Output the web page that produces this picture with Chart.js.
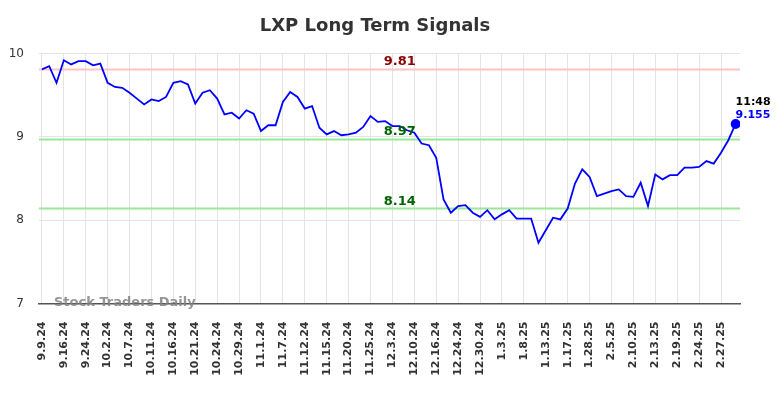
<!DOCTYPE html>
<html>
<head>
<meta charset="utf-8">
<script src="https://cdn.jsdelivr.net/npm/chart.js@4.4.1/dist/chart.umd.min.js"></script>
<style>
  html, body { margin: 0; padding: 0; background: #fff; }
  #wrap { width: 784px; height: 398px; }
</style>
</head>
<body>
<div id="wrap"><canvas id="signalChart"></canvas></div>
<script>
// tick labels, one every 3rd point
var dates = ['9.9.24', '9.16.24', '9.24.24', '10.2.24', '10.7.24', '10.11.24', '10.16.24',
  '10.21.24', '10.24.24', '10.29.24', '11.1.24', '11.7.24', '11.12.24', '11.15.24',
  '11.20.24', '11.25.24', '12.3.24', '12.10.24', '12.16.24', '12.24.24', '12.30.24',
  '1.3.25', '1.8.25', '1.13.25', '1.17.25', '1.28.25', '2.5.25', '2.10.25', '2.13.25',
  '2.19.25', '2.24.25', '2.27.25'];
var labelStep = 3;

var prices = [9.81, 9.85, 9.65, 9.92, 9.87, 9.91, 9.91, 9.86, 9.88, 9.65,
  9.60, 9.59, 9.53, 9.46, 9.39, 9.45, 9.43, 9.48, 9.65, 9.67,
  9.63, 9.40, 9.53, 9.56, 9.46, 9.27, 9.29, 9.22, 9.32, 9.28,
  9.07, 9.14, 9.14, 9.42, 9.54, 9.48, 9.34, 9.37, 9.11, 9.03,
  9.07, 9.02, 9.03, 9.05, 9.12, 9.25, 9.18, 9.19, 9.13, 9.13,
  9.08, 9.05, 8.92, 8.90, 8.75, 8.25, 8.09, 8.17, 8.18, 8.09,
  8.04, 8.12, 8.01, 8.07, 8.12, 8.02, 8.02, 8.02, 7.73, 7.88,
  8.03, 8.01, 8.14, 8.44, 8.61, 8.52, 8.29, 8.32, 8.35, 8.37,
  8.29, 8.28, 8.45, 8.17, 8.55, 8.49, 8.54, 8.54, 8.63, 8.63,
  8.64, 8.71, 8.68, 8.81, 8.96, 9.155];

var signalValues = [9.81, 8.97, 8.14];
var signalColors = ['#ffc4c4', '#98e898', '#98e898'];
var signalTextColors = ['#8b0000', '#006400', '#006400'];
var lastTime = '11:48';

var yTicks = [7, 8, 9, 10];
var xMin = -0.4, xMax = 95.6;

var FONT = "'DejaVu Sans', Verdana, sans-serif";

var linePoints = prices.map(function (p, i) { return { x: i, y: p }; });

var datasets = signalValues.map(function (v, i) {
  return {
    data: [{ x: xMin, y: v }, { x: xMax, y: v }],
    borderColor: signalColors[i],
    borderWidth: 2,
    pointRadius: 0,
    order: 2
  };
});
datasets.push({
  data: linePoints,
  borderColor: '#0000ff',
  backgroundColor: '#0000ff',
  borderWidth: 1.8,
  tension: 0,
  pointRadius: function (ctx) { return ctx.dataIndex === prices.length - 1 ? 4 : 0; },
  order: 1
});

var textPlugin = {
  id: 'signalText',
  afterDatasetsDraw: function (chart) {
    var ctx = chart.ctx;
    var xs = chart.scales.x, ys = chart.scales.y;
    var area = chart.chartArea;
    ctx.save();
    // signal labels
    ctx.font = 'bold 13px ' + FONT;
    ctx.textAlign = 'center';
    ctx.textBaseline = 'alphabetic';
    signalValues.forEach(function (v, i) {
      ctx.fillStyle = signalTextColors[i];
      ctx.fillText(v.toFixed(2), xs.getPixelForValue(49), ys.getPixelForValue(v) - 4);
    });
    // watermark
    ctx.font = 'bold 13px ' + FONT;
    ctx.textAlign = 'left';
    ctx.textBaseline = 'middle';
    ctx.fillStyle = 'rgba(130,130,130,0.85)';
    ctx.fillText('Stock Traders Daily', area.left + 15, area.bottom - 1);
    // last value
    var li = prices.length - 1;
    var px = xs.getPixelForValue(li), py = ys.getPixelForValue(prices[li]);
    ctx.font = 'bold 11px ' + FONT;
    ctx.textAlign = 'left';
    ctx.textBaseline = 'alphabetic';
    ctx.fillStyle = '#000';
    ctx.fillText(lastTime, px, py - 19);
    ctx.fillStyle = '#0000ff';
    ctx.fillText(String(prices[li]), px, py - 6);
    ctx.restore();
  }
};

new Chart(document.getElementById('signalChart'), {
  type: 'line',
  data: { datasets: datasets },
  plugins: [textPlugin],
  options: {
    responsive: true,
    maintainAspectRatio: false,
    animation: false,
    layout: { padding: { left: 10, right: 44, top: 0, bottom: 0 } },
    plugins: {
      legend: { display: false },
      tooltip: { enabled: false },
      title: {
        display: true,
        text: 'LXP Long Term Signals',
        color: '#333',
        font: { family: FONT, size: 18, weight: 'bold' },
        padding: { top: 16, bottom: 16 }
      }
    },
    scales: {
      x: {
        type: 'linear',
        min: xMin,
        max: xMax,
        afterBuildTicks: function (scale) {
          scale.ticks = dates.map(function (d, i) { return { value: i * labelStep }; });
        },
        afterFit: function (scale) { scale.height = 94.5; },
        ticks: {
          autoSkip: false,
          minRotation: 90,
          maxRotation: 90,
          padding: 18,
          color: '#333',
          font: { family: FONT, size: 11, weight: 'bold' },
          callback: function (value) { return dates[Math.round(value / labelStep)]; }
        },
        grid: { color: '#e4e4e4', drawTicks: false },
        border: { color: '#555', width: 1.5 }
      },
      y: {
        min: 7,
        max: 10,
        afterBuildTicks: function (scale) {
          scale.ticks = yTicks.map(function (v) { return { value: v }; });
        },
        afterFit: function (scale) { scale.width = 29; },
        ticks: {
          padding: 15,
          color: '#333',
          font: { family: FONT, size: 12 }
        },
        grid: { color: '#e4e4e4', drawTicks: false },
        border: { display: false }
      }
    }
  }
});
</script>
</body>
</html>
